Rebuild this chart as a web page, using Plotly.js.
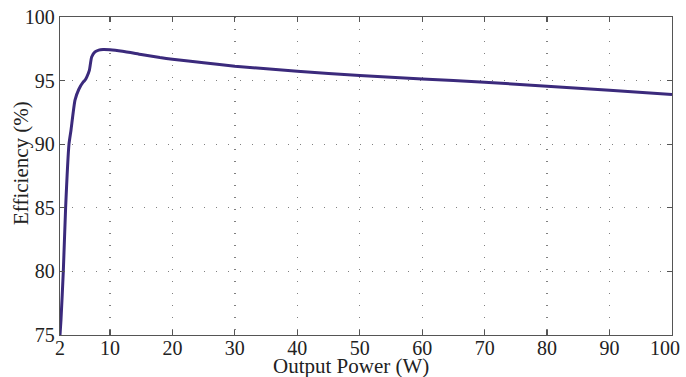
<!DOCTYPE html>
<html>
<head>
<meta charset="utf-8">
<script src="https://cdn.plot.ly/plotly-3.0.1.min.js"></script>
<style>html,body{margin:0;padding:0;background:#fff;}#chart{width:686px;height:377px;}</style>
</head>
<body>
<div id="chart"></div>
<script>
const outputPower = [2, 2.16, 2.53, 2.9, 3.44, 3.76, 4.4, 5.0, 5.73, 6.0, 6.3, 6.7, 7.07, 7.6, 8.2, 8.9, 10, 12, 15, 18, 20, 25, 30, 40, 50, 60, 70, 80, 90, 100];
const efficiency  = [75, 76.2, 80, 85, 90, 91.1, 93.46, 94.3, 94.9, 95.03, 95.3, 95.8, 96.86, 97.25, 97.4, 97.44, 97.42, 97.3, 97.05, 96.81, 96.68, 96.4, 96.13, 95.74, 95.40, 95.13, 94.87, 94.56, 94.24, 93.9];
const xTicks = [2, 10, 20, 30, 40, 50, 60, 70, 80, 90, 100];
const xTickText = ['2', '10', '20', '30', '40', '50', '60', '70', '80', '90', ''];
const lastXTickLabel = '100';
const yTicks = [75, 80, 85, 90, 95, 100];
const xTitle = 'Output Power (W)';
const yTitle = 'Efficiency (%)';

const fam = '"Liberation Serif", "Times New Roman", serif';
const tickFont = {family: fam, size: 20, color: '#222'};
const titleFont = {family: fam, size: 21, color: '#222'};
const axisCommon = {
  showline: true, linecolor: '#555', linewidth: 1.2, mirror: 'ticks',
  ticks: 'inside', ticklen: 5, tickwidth: 1.2, tickcolor: '#555',
  showgrid: true, gridcolor: '#808080', gridwidth: 1.3, griddash: '1px,11px',
  zeroline: false, tickfont: tickFont
};

Plotly.newPlot('chart', [{
  x: outputPower, y: efficiency, type: 'scatter', mode: 'lines',
  line: {color: '#3b2a7c', width: 3, shape: 'spline', smoothing: 0.5},
  hoverinfo: 'none'
}], {
  width: 686, height: 377,
  margin: {l: 60, r: 14, t: 17, b: 42},
  paper_bgcolor: '#fff', plot_bgcolor: '#fff',
  showlegend: false,
  font: tickFont,
  xaxis: Object.assign({}, axisCommon, {
    range: [2, 100], tickvals: xTicks, ticktext: xTickText, ticklabelstandoff: -5
  }),
  yaxis: Object.assign({}, axisCommon, {
    range: [75, 100], tickvals: yTicks, ticktext: yTicks.map(String)
  }),
  annotations: [
    {text: lastXTickLabel, xref: 'x', yref: 'paper', x: 100, y: 0, xanchor: 'right', yanchor: 'top',
     xshift: 10, yshift: 0, showarrow: false, font: tickFont},
    {text: xTitle, xref: 'paper', yref: 'paper', x: (351 - 60) / 612.5, y: (377 - 42 - 366) / 318,
     xanchor: 'center', yanchor: 'middle', showarrow: false, font: titleFont},
    {text: yTitle, xref: 'paper', yref: 'paper', x: (21 - 60) / 612.5, y: (335 - 163) / 318,
     xanchor: 'center', yanchor: 'middle', textangle: -90, showarrow: false, font: titleFont}
  ]
}, {staticPlot: true});
</script>
</body>
</html>
